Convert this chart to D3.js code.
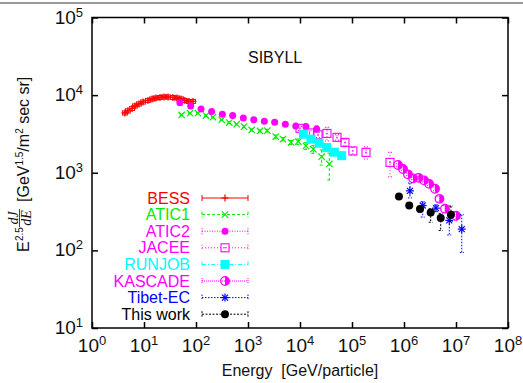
<!DOCTYPE html>
<html>
<head>
<meta charset="utf-8">
<script src="https://cdn.jsdelivr.net/npm/d3@7"></script>
<style>
  body { margin: 0; background: #fff; }
  svg { display: block; font-family: "Liberation Sans", Arial, sans-serif; }
</style>
</head>
<body>
<div id="chart"></div>
<script>
// ---- data (energy in GeV/particle, flux = E^2.5 dJ/dE) ----
const energyTicks = [1, 1e1, 1e2, 1e3, 1e4, 1e5, 1e6, 1e7, 1e8];
const fluxTicks = [1e1, 1e2, 1e3, 1e4, 1e5];
const tickExponents = ['0', '1', '2', '3', '4', '5', '6', '7', '8'];

const bessEnergy = [4.3, 4.9, 5.9, 6.7, 8.0, 9.6, 11.9, 14.3, 17, 20.3, 24.3, 29, 36, 43, 51.5, 61, 73, 87.5];
const bessFlux = [5900, 6270, 6740, 7260, 7710, 8170, 8550, 8930, 9200, 9340, 9480, 9480, 9340, 9200, 8930, 8550, 8300, 8300];

const atic1Energy = [53, 77, 109, 156, 212, 312, 437, 606, 837, 1178, 1700, 2350, 3410, 4710, 6710, 9270, 13000, 18000, 26100, 36600];
const atic1Flux = [5560, 5850, 5850, 5450, 5200, 4800, 4430, 4220, 3930, 3560, 3460, 3490, 2920, 2710, 2460, 2520, 2220, 2010, 1610, 1300];
const atic1Err = [0.02, 0.02, 0.02, 0.02, 0.02, 0.02, 0.02, 0.02, 0.03, 0.03, 0.03, 0.04, 0.05, 0.05, 0.06, 0.08, 0.1, 0.12, 0.22, 0.38];

const atic2Energy = [49, 79, 125, 200, 321, 508, 813, 1290, 2060, 3260, 5220, 8300, 13000, 20900];
const atic2Flux = [8000, 7260, 6640, 6130, 5680, 5450, 5090, 4800, 4610, 4480, 4220, 4010, 3930, 3670];
const atic2Err = [0.02, 0.02, 0.02, 0.02, 0.02, 0.02, 0.02, 0.02, 0.03, 0.03, 0.04, 0.06, 0.08, 0.1];

const jaceeEnergy = [10000, 15200, 22200, 33000, 51500, 73300, 104000, 186000, 538000];
const jaceeFlux = [3730, 3260, 3080, 3210, 2860, 2460, 1910, 1830, 1360];
const jaceeErr = [0.06, 0.07, 0.08, 0.2, 0.08, 0.1, 0.12, 0.18, 0.35];

const runjobEnergy = [11600, 16300, 23200, 32600, 45700, 63400];
const runjobFlux = [3140, 2710, 2400, 2110, 1840, 1660];
const runjobErr = [0.04, 0.04, 0.05, 0.05, 0.06, 0.07];

const kascadeEnergy = [7.67e5, 9.57e5, 1.19e6, 1.49e6, 1.9e6, 2.42e6, 3.03e6, 3.95e6, 4.81e6, 6.14e6, 1e7];
const kascadeFlux = [1260, 1120, 953, 847, 859, 798, 719, 621, 461, 343, 279];
const kascadeErr = [0.04, 0.04, 0.04, 0.04, 0.04, 0.05, 0.05, 0.06, 0.08, 0.1, 0.12];

const tibetEnergy = [1.3e6, 2.29e6, 4.12e6, 7.43e6, 1.29e7];
const tibetFlux = [585, 378, 350, 243, 188];
const tibetErrUp = [0.26, 0.12, 0.1, 0.18, 0.53];
const tibetErrDn = [0.19, 0.29, 0.1, 0.35, 0.5];

const thisWorkEnergy = [8.0e5, 1.26e6, 2.03e6, 3.26e6, 5.08e6, 8.0e6];
const thisWorkFlux = [494, 378, 340, 307, 261, 287];
const thisWorkErrUp = [0.04, 0.05, 0.08, 0.12, 0.14, 0.3];
const thisWorkErrDn = [0.04, 0.05, 0.08, 0.25, 0.31, 0.18];

const series = [
  { name: 'BESS', color: '#ff0000', dash: null, marker: 'plus', energy: bessEnergy, flux: bessFlux, errUp: bessFlux.map(() => 0.06), errDn: bessFlux.map(() => 0.06), xbar: true },
  { name: 'ATIC1', color: '#00ee00', dash: '3,2', marker: 'cross', energy: atic1Energy, flux: atic1Flux, errUp: atic1Err, errDn: atic1Err },
  { name: 'ATIC2', color: '#ff00ff', dash: '1,1.5', marker: 'dot', energy: atic2Energy, flux: atic2Flux, errUp: atic2Err, errDn: atic2Err },
  { name: 'JACEE', color: '#ff00ff', dash: '1,2', marker: 'openSquare', energy: jaceeEnergy, flux: jaceeFlux, errUp: jaceeErr, errDn: jaceeErr },
  { name: 'RUNJOB', color: '#00ffff', dash: '4,2,1,2', marker: 'square', energy: runjobEnergy, flux: runjobFlux, errUp: runjobErr, errDn: runjobErr },
  { name: 'KASCADE', color: '#ff00ff', dash: '1,1', marker: 'halfCircle', energy: kascadeEnergy, flux: kascadeFlux, errUp: kascadeErr, errDn: kascadeErr },
  { name: 'Tibet-EC', color: '#0000ff', dash: '1.5,1.5', marker: 'star', energy: tibetEnergy, flux: tibetFlux, errUp: tibetErrUp, errDn: tibetErrDn },
  { name: 'This work', color: '#000000', dash: '2,1.5', marker: 'disc', energy: thisWorkEnergy, flux: thisWorkFlux, errUp: thisWorkErrUp, errDn: thisWorkErrDn }
];

// ---- layout ----
const width = 523, height = 383;
const plot = { left: 92, right: 508, top: 17.5, bottom: 328 };

const svg = d3.select('#chart').append('svg')
  .attr('width', width)
  .attr('height', height);

svg.append('line')
  .attr('x1', 0).attr('x2', width)
  .attr('y1', 3).attr('y2', 3)
  .attr('stroke', '#999').attr('stroke-width', 2);

const x = d3.scaleLog().domain([1, 1e8]).range([plot.left, plot.right]);
const y = d3.scaleLog().domain([10, 1e5]).range([plot.bottom, plot.top]);

// axes, ticks pointing inwards on all four sides
const tick = 6;
const xAxisB = svg.append('g')
  .attr('transform', `translate(0,${plot.bottom})`)
  .call(d3.axisBottom(x).tickValues(energyTicks).tickSize(-tick).tickFormat(''));
const xAxisT = svg.append('g')
  .attr('transform', `translate(0,${plot.top})`)
  .call(d3.axisTop(x).tickValues(energyTicks).tickSize(-tick).tickFormat(''));
const yAxisL = svg.append('g')
  .attr('transform', `translate(${plot.left},0)`)
  .call(d3.axisLeft(y).tickValues(fluxTicks).tickSize(-tick).tickFormat(''));
const yAxisR = svg.append('g')
  .attr('transform', `translate(${plot.right},0)`)
  .call(d3.axisRight(y).tickValues(fluxTicks).tickSize(-tick).tickFormat(''));

[xAxisB, xAxisT, yAxisL, yAxisR].forEach(a => {
  a.select('.domain').remove();
  a.selectAll('.tick line').attr('stroke', '#000').attr('stroke-width', 1.5);
});

svg.append('rect')
  .attr('x', plot.left).attr('y', plot.top)
  .attr('width', plot.right - plot.left)
  .attr('height', plot.bottom - plot.top)
  .attr('fill', 'none')
  .attr('stroke', '#000')
  .attr('stroke-width', 1.5);

// tick labels as 10^n
const addPower = (sel, exp) => {
  sel.append('tspan').text('10');
  sel.append('tspan').attr('font-size', 13).attr('dy', -7).text(exp);
};

svg.append('g').selectAll('text')
  .data(energyTicks)
  .enter()
  .append('text')
  .attr('x', d => x(d))
  .attr('y', 351.5)
  .attr('text-anchor', 'middle')
  .attr('font-size', 19)
  .attr('fill', '#111')
  .each(function (d, i) { addPower(d3.select(this), tickExponents[i]); });

svg.append('g').selectAll('text')
  .data(fluxTicks)
  .enter()
  .append('text')
  .attr('x', 83)
  .attr('y', d => y(d) + 6)
  .attr('text-anchor', 'end')
  .attr('font-size', 19)
  .attr('fill', '#111')
  .each(function (d, i) { addPower(d3.select(this), tickExponents[i + 1]); });

// axis titles
svg.append('text')
  .attr('x', 300)
  .attr('y', 376)
  .attr('text-anchor', 'middle')
  .attr('font-size', 16)
  .attr('fill', '#111')
  .style('white-space', 'pre')
  .text('Energy  [GeV/particle]');

const yTitle = svg.append('g')
  .attr('transform', 'translate(29,252) rotate(-90)')
  .attr('fill', '#111');
yTitle.append('text').attr('x', 0).attr('y', 0).attr('font-size', 16).text('E');
yTitle.append('text').attr('x', 11).attr('y', -6).attr('font-size', 10).text('2.5');
const frac = yTitle.append('g')
  .attr('font-family', '"Liberation Serif", "DejaVu Serif", serif')
  .attr('font-style', 'italic')
  .attr('font-size', 14)
  .attr('text-anchor', 'middle');
frac.append('text').attr('x', 34).attr('y', -11.5).text('dJ');
frac.append('line').attr('x1', 25).attr('x2', 43).attr('y1', -9.5).attr('y2', -9.5)
  .attr('stroke', '#111').attr('stroke-width', 0.8);
frac.append('text').attr('x', 34).attr('y', 2).text('dE');
const unit = yTitle.append('text').attr('x', 50).attr('y', 0).attr('font-size', 16);
unit.append('tspan').text('[GeV');
unit.append('tspan').attr('font-size', 10).attr('dy', -6).text('1.5');
unit.append('tspan').attr('dy', 6).text('/m');
unit.append('tspan').attr('font-size', 10).attr('dy', -6).text('2');
unit.append('tspan').attr('dy', 6).style('white-space', 'pre').text(' sec sr]');

svg.append('text')
  .attr('x', 248)
  .attr('y', 63)
  .attr('font-size', 16)
  .attr('fill', '#111')
  .text('SIBYLL');

// ---- markers ----
function drawMarker(g, type, cx, cy, color) {
  const line = (x1, y1, x2, y2) => g.append('line')
    .attr('x1', cx + x1).attr('y1', cy + y1).attr('x2', cx + x2).attr('y2', cy + y2)
    .attr('stroke', color).attr('stroke-width', 1.2);
  if (type === 'plus') {
    line(-3.5, 0, 3.5, 0); line(0, -3.5, 0, 3.5);
  } else if (type === 'cross') {
    line(-3.2, -3.2, 3.2, 3.2); line(-3.2, 3.2, 3.2, -3.2);
  } else if (type === 'star') {
    line(-4, 0, 4, 0); line(0, -4, 0, 4);
    line(-3, -3, 3, 3); line(-3, 3, 3, -3);
  } else if (type === 'dot') {
    g.append('circle').attr('cx', cx).attr('cy', cy).attr('r', 3.5).attr('fill', color);
  } else if (type === 'disc') {
    g.append('circle').attr('cx', cx).attr('cy', cy).attr('r', 4).attr('fill', color);
  } else if (type === 'square') {
    g.append('rect').attr('x', cx - 4.5).attr('y', cy - 4.5).attr('width', 9).attr('height', 9).attr('fill', color);
  } else if (type === 'openSquare') {
    g.append('rect').attr('x', cx - 4).attr('y', cy - 4).attr('width', 8).attr('height', 8)
      .attr('fill', 'none').attr('stroke', color).attr('stroke-width', 1.1);
    g.append('circle').attr('cx', cx).attr('cy', cy).attr('r', 0.8).attr('fill', color);
  } else if (type === 'halfCircle') {
    g.append('circle').attr('cx', cx).attr('cy', cy).attr('r', 4.3)
      .attr('fill', 'none').attr('stroke', color).attr('stroke-width', 1.3);
    g.append('path')
      .attr('d', `M${cx},${cy - 4.3} A4.3,4.3 0 0,1 ${cx},${cy + 4.3} Z`)
      .attr('fill', color);
  }
}

// ---- data ----
const dataLayer = svg.append('g');
series.forEach(s => {
  const g = dataLayer.append('g').attr('class', 'series');
  const cap = s.xbar ? 2.5 : 2;
  s.energy.forEach((e, i) => {
    const v = s.flux[i];
    const cx = x(e), cy = y(v);
    const yHi = y(v * (1 + s.errUp[i])), yLo = y(v * (1 - s.errDn[i]));
    const eb = g.append('g')
      .attr('stroke', s.color)
      .attr('stroke-width', 1)
      .attr('stroke-dasharray', s.dash);
    eb.append('line').attr('x1', cx).attr('x2', cx).attr('y1', yHi).attr('y2', yLo);
    eb.append('line').attr('x1', cx - cap).attr('x2', cx + cap).attr('y1', yHi).attr('y2', yHi);
    eb.append('line').attr('x1', cx - cap).attr('x2', cx + cap).attr('y1', yLo).attr('y2', yLo);
    if (s.xbar) {
      const xl = x(e / 1.11), xr = x(e * 1.11);
      eb.append('line').attr('x1', xl).attr('x2', xr).attr('y1', cy).attr('y2', cy);
      eb.append('line').attr('x1', xl).attr('x2', xl).attr('y1', cy - cap).attr('y2', cy + cap);
      eb.append('line').attr('x1', xr).attr('x2', xr).attr('y1', cy - cap).attr('y2', cy + cap);
    }
    drawMarker(g, s.marker, cx, cy, s.color);
  });
});

// ---- legend ----
const legend = svg.append('g').attr('class', 'legend');
series.forEach((s, i) => {
  const ly = 198 + i * 16.6;
  legend.append('text')
    .attr('x', 190)
    .attr('y', ly + 5.5)
    .attr('text-anchor', 'end')
    .attr('font-size', 16)
    .attr('fill', s.color)
    .text(s.name);
  const lg = legend.append('g')
    .attr('stroke', s.color)
    .attr('stroke-width', 1)
    .attr('stroke-dasharray', s.dash);
  lg.append('line').attr('x1', 202).attr('x2', 248).attr('y1', ly).attr('y2', ly);
  lg.append('line').attr('x1', 202).attr('x2', 202).attr('y1', ly - 3).attr('y2', ly + 3);
  lg.append('line').attr('x1', 248).attr('x2', 248).attr('y1', ly - 3).attr('y2', ly + 3);
  drawMarker(legend.append('g'), s.marker, 225, ly, s.color);
});
</script>
</body>
</html>
